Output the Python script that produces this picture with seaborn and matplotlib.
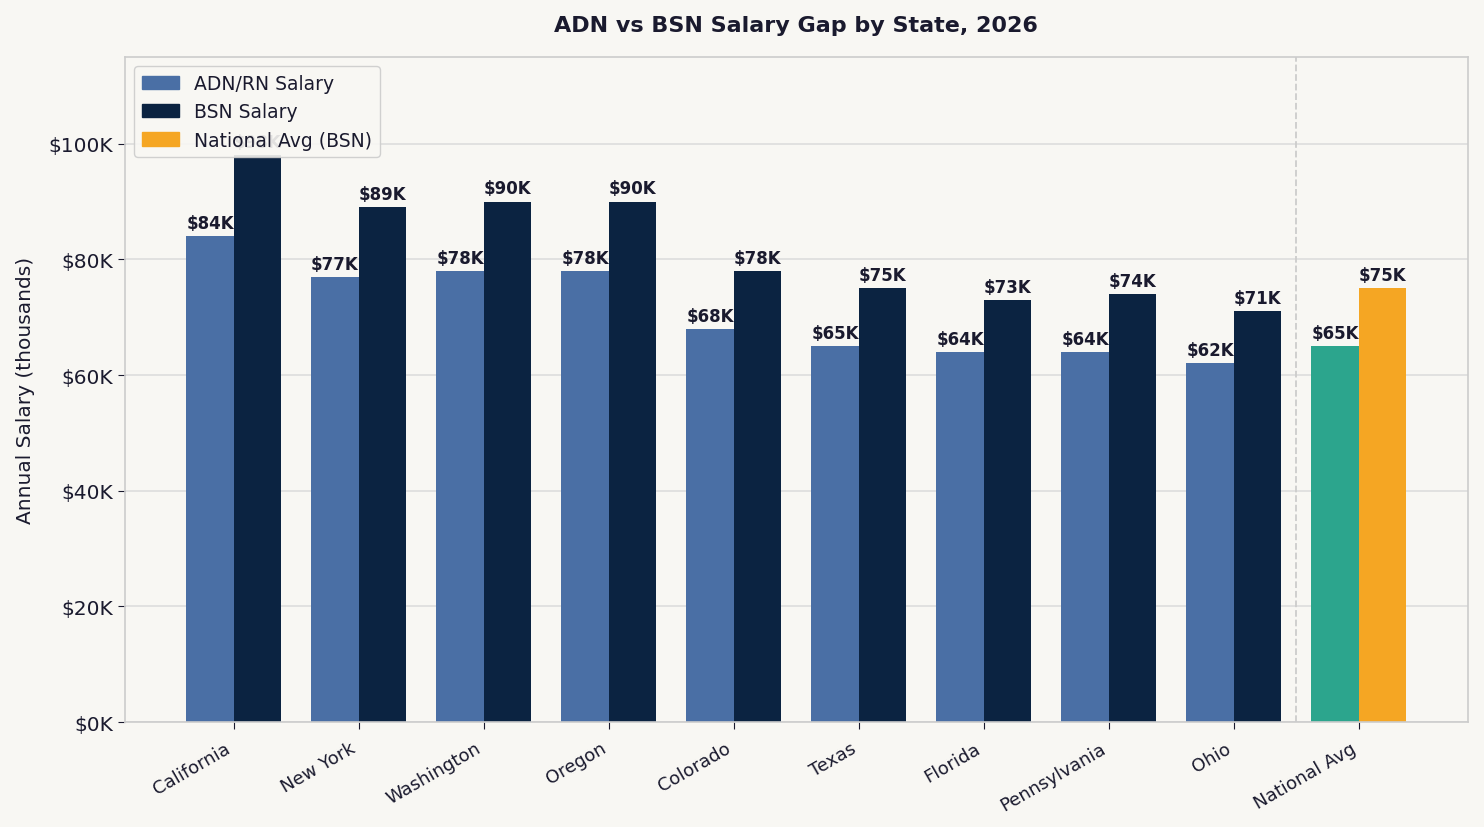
import pandas as pd
import matplotlib
matplotlib.use('Agg')
import matplotlib.pyplot as plt
import seaborn as sns
from matplotlib.patches import Patch

states = ['California', 'New York', 'Washington', 'Oregon', 'Colorado',
          'Texas', 'Florida', 'Pennsylvania', 'Ohio', 'National Avg']
adn_salary = [84, 77, 78, 78, 68, 65, 64, 64, 62, 65]
bsn_salary = [98, 89, 90, 90, 78, 75, 73, 74, 71, 75]
y_ticks = [0, 20, 40, 60, 80, 100]

bg = '#F8F7F3'
c_adn = '#4A6FA5'
c_bsn = '#0B2341'
c_nat_adn = '#2CA58D'
c_nat_bsn = '#F5A623'
ink = '#1A1A2E'

df = pd.DataFrame({
    'state': states * 2,
    'salary': adn_salary + bsn_salary,
    'type': ['ADN/RN Salary'] * len(states) + ['BSN Salary'] * len(states),
})

sns.set_style('white')
plt.rcParams['font.family'] = ['DejaVu Sans']

fig = plt.figure(figsize=(14.84, 8.28), dpi=100, facecolor=bg)
ax = fig.add_axes([0.0842, 0.1268, 0.9048, 0.8032])
ax.set_facecolor(bg)

sns.barplot(data=df, x='state', y='salary', hue='type',
            palette=[c_adn, c_bsn], width=0.76, legend=False, ax=ax,
            saturation=1, zorder=2, linewidth=0, edgecolor='none')

# recolour the national average pair
ax.containers[0][-1].set_facecolor(c_nat_adn)
ax.containers[1][-1].set_facecolor(c_nat_bsn)

for cont, vals in zip(ax.containers, [adn_salary, bsn_salary]):
    ax.bar_label(cont, labels=[f'${v}K' for v in vals], padding=3,
                 fontsize=12, fontweight='bold', color=ink)

ax.axvline(8.5, color='#CCCCCC', linestyle='--', linewidth=1.3, zorder=1)

ax.set_xlim(-0.87, 9.87)
ax.set_ylim(0, 115)
ax.set_yticks(y_ticks)
ax.set_yticklabels([f'${t}K' for t in y_ticks])
ax.grid(axis='y', color='#DDDDDD', linewidth=1.2, zorder=0)
ax.set_axisbelow(True)
ax.set_xlabel('')
ax.set_ylabel('Annual Salary (thousands)', fontsize=14.5, color=ink, labelpad=10)
ax.set_title('ADN vs BSN Salary Gap by State, 2026', fontsize=16,
             fontweight='bold', color=ink, pad=19)

ax.tick_params(axis='y', labelsize=14.5, colors=ink, length=5, left=True)
ax.tick_params(axis='x', labelsize=13, colors=ink, length=5, bottom=True, pad=7)
plt.setp(ax.get_xticklabels(), rotation=30, ha='right')
for s in ax.spines.values():
    s.set_color('#CCCCCC')
    s.set_linewidth(1.2)

handles = [Patch(color=c_adn, label='ADN/RN Salary'),
           Patch(color=c_bsn, label='BSN Salary'),
           Patch(color=c_nat_bsn, label='National Avg (BSN)')]
leg = ax.legend(handles=handles, loc='upper left', fontsize=13.5,
                frameon=True, facecolor=bg, edgecolor='#CCCCCC',
                framealpha=0.9, fancybox=True)
leg.set_zorder(10)
for t in leg.get_texts():
    t.set_color(ink)

fig.savefig('out.png', dpi=100, facecolor=bg)
